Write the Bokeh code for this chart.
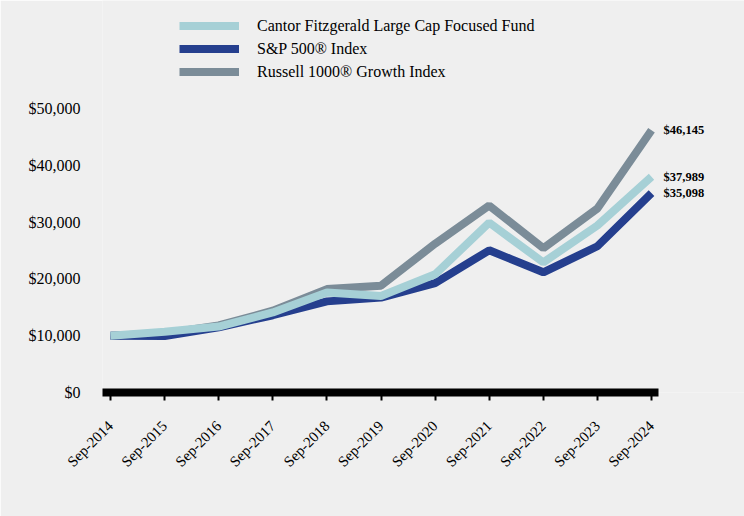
import math
from bokeh.plotting import figure
from bokeh.models import (ColumnDataSource, Legend, LegendItem, FixedTicker,
                          Range1d, NumeralTickFormatter)
from bokeh.core.properties import value
from bokeh.embed import file_html
from bokeh.resources import INLINE

dates = ["Sep-2014", "Sep-2015", "Sep-2016", "Sep-2017", "Sep-2018", "Sep-2019",
         "Sep-2020", "Sep-2021", "Sep-2022", "Sep-2023", "Sep-2024"]
fund = [10000, 10700, 11600, 14100, 17600, 17000, 20800, 29900, 22900, 29400, 37989]
sp500 = [10000, 9940, 11470, 13600, 16040, 16720, 19260, 25030, 21160, 25740, 35098]
russell = [10000, 10400, 11800, 14400, 18200, 18800, 26200, 32900, 25400, 32400, 46145]
names = ["Cantor Fitzgerald Large Cap Focused Fund", "S&P 500® Index",
         "Russell 1000® Growth Index"]
colors = ["#a6d0d6", "#253f8e", "#7b8c98"]
yticks = [0, 10000, 20000, 30000, 40000, 50000]

xs = list(range(len(dates)))
FONT = "Liberation Serif"
BG = "#efefef"

p = figure(width=744, height=516, output_backend="svg", toolbar_location=None,
           x_range=Range1d(-0.148, 11.719), y_range=Range1d(0, 69000),
           min_border_left=102, min_border_right=0, min_border_top=0,
           min_border_bottom=124, background_fill_color=BG,
           border_fill_color=BG, outline_line_color=None)
p.grid.grid_line_color = None

r_rus = p.line(xs, russell, line_color=colors[2], line_width=8)
r_sp = p.line(xs, sp500, line_color=colors[1], line_width=8)
r_fund = p.line(xs, fund, line_color=colors[0], line_width=8)

# end labels
ends = ColumnDataSource(dict(x=[xs[-1]] * 3,
                             y=[russell[-1], fund[-1], sp500[-1]],
                             t=["${:,.0f}".format(v) for v in (russell[-1], fund[-1], sp500[-1])]))
p.text("x", "y", text="t", source=ends, x_offset=12, text_baseline="middle",
       text_align="left", text_font=value(FONT), text_font_size="12.5px",
       text_font_style="bold", text_color="#000000")

# x axis
xa = p.xaxis[0]
xa.bounds = (-0.148, 10.129)
xa.ticker = FixedTicker(ticks=xs)
xa.major_label_overrides = {i: d for i, d in enumerate(dates)}
xa.major_label_orientation = math.pi / 4
xa.major_label_text_font = FONT
xa.major_label_text_font_size = "15px"
xa.major_label_text_color = "#000000"
xa.axis_line_width = 8
xa.axis_line_color = "#000000"
xa.major_tick_line_width = 2
xa.major_tick_line_color = "#000000"
xa.major_tick_out = 8
xa.major_tick_in = 0
xa.minor_tick_line_color = None
xa.major_label_standoff = 23

# y axis
ya = p.yaxis[0]
ya.ticker = FixedTicker(ticks=yticks)
ya.formatter = NumeralTickFormatter(format="$0,0")
ya.axis_line_color = None
ya.major_tick_line_color = None
ya.minor_tick_line_color = None
ya.major_tick_out = 0
ya.major_tick_in = 0
ya.major_label_standoff = 22
ya.major_label_text_font = FONT
ya.major_label_text_font_size = "16px"
ya.major_label_text_color = "#000000"

legend = Legend(items=[LegendItem(label=names[0], renderers=[r_fund]),
                       LegendItem(label=names[1], renderers=[r_sp]),
                       LegendItem(label=names[2], renderers=[r_rus])],
                location=(77, 309), orientation="vertical",
                glyph_width=60, glyph_height=23, label_height=23,
                label_standoff=18, spacing=0, padding=0, margin=0,
                border_line_color=None, background_fill_alpha=0,
                label_text_font=FONT, label_text_font_size="16px",
                label_text_color="#000000")
p.add_layout(legend, "center")

open("out.html", "w").write(file_html(p, INLINE))
